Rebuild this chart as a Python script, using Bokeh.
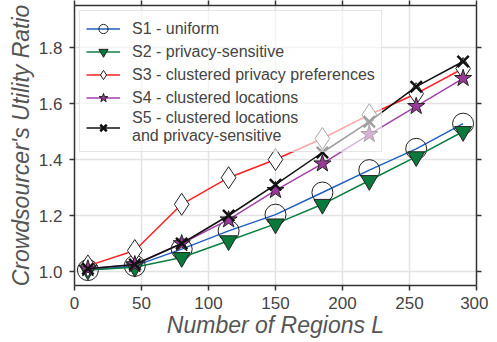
from bokeh.plotting import figure
from bokeh.models import LinearAxis, Range1d, Legend, LegendItem, FixedTicker, PrintfTickFormatter
from bokeh.embed import file_html
from bokeh.resources import INLINE

regions = [10, 45, 80, 115, 150, 185, 220, 255, 290]
s1_uniform = [1.005, 1.02, 1.08, 1.145, 1.203, 1.282, 1.362, 1.438, 1.528]
s2_privacy = [1.005, 1.015, 1.05, 1.11, 1.17, 1.24, 1.325, 1.41, 1.50]
s3_clustered_pref = [1.02, 1.075, 1.24, 1.335, 1.40, 1.475, 1.56, 1.635, 1.725]
s4_clustered_loc = [1.01, 1.025, 1.10, 1.185, 1.29, 1.385, 1.49, 1.59, 1.69]
s5_clustered_both = [1.01, 1.025, 1.10, 1.20, 1.31, 1.425, 1.535, 1.66, 1.75]

x_ticks = [0, 50, 100, 150, 200, 250, 300]
y_ticks = [1.0, 1.2, 1.4, 1.6, 1.8]

labels = ["S1 - uniform", "S2 - privacy-sensitive", "S3 - clustered privacy preferences",
          "S4 - clustered locations", "S5 - clustered locations\nand privacy-sensitive"]

FONT = "Liberation Sans"

p = figure(width=488, height=340, output_backend="svg", toolbar_location=None,
           x_range=Range1d(0, 300), y_range=Range1d(0.95, 1.95),
           min_border_left=74, min_border_right=12, min_border_top=4, min_border_bottom=0)
p.outline_line_color = None
p.background_fill_color = "white"

axis_color = "#333333"
for ax in [p.xaxis[0], p.yaxis[0]]:
    ax.axis_line_color = axis_color
    ax.axis_line_width = 1.5
    ax.major_tick_line_color = axis_color
    ax.major_tick_line_width = 1.5
    ax.major_tick_out = 5
    ax.major_tick_in = 0
    ax.minor_tick_line_color = None
    ax.major_label_text_font = FONT
    ax.major_label_text_font_size = "17px"
    ax.major_label_text_color = "#444444"
    ax.axis_label_text_font = FONT
    ax.axis_label_text_font_style = "italic"
    ax.axis_label_text_font_size = "23px"
    ax.axis_label_text_color = "#555555"

p.xaxis[0].ticker = FixedTicker(ticks=x_ticks)
p.yaxis[0].ticker = FixedTicker(ticks=y_ticks)
p.yaxis[0].formatter = PrintfTickFormatter(format="%.1f")
p.xaxis[0].axis_label = "Number of Regions L"
p.yaxis[0].axis_label = "Crowdsourcer's Utility Ratio"
p.xaxis[0].major_label_standoff = 6
p.yaxis[0].major_label_standoff = 7
p.xaxis[0].axis_label_standoff = 0
p.yaxis[0].axis_label_standoff = 2

for loc, tick in [("above", x_ticks), ("right", y_ticks)]:
    ax = LinearAxis(ticker=FixedTicker(ticks=tick))
    ax.axis_line_color = axis_color
    ax.axis_line_width = 1.5
    ax.major_tick_line_color = axis_color
    ax.major_tick_line_width = 1.5
    ax.major_tick_out = 5
    ax.major_tick_in = 0
    ax.minor_tick_line_color = None
    ax.major_label_text_font_size = "1px"
    ax.major_label_overrides = {t: "" for t in tick}
    ax.major_label_standoff = 0
    p.add_layout(ax, loc)

p.xgrid.ticker = FixedTicker(ticks=x_ticks)
p.ygrid.ticker = FixedTicker(ticks=y_ticks)
p.grid.grid_line_color = "#e3e3e3"
p.grid.grid_line_width = 1.5

# S1
l1 = p.line(regions, s1_uniform, line_color="#1f5fbf", line_width=1.5)
m1 = p.scatter(regions, s1_uniform, marker="circle", size=21, fill_color=None,
               line_color="#222222", line_width=1)
# S2
l2 = p.line(regions, s2_privacy, line_color="#0a8040", line_width=1.5)
m2 = p.scatter(regions, s2_privacy, marker="inverted_triangle", size=17, fill_color="#0a7a3c",
               line_color="#222222", line_width=1)
# S3
l3 = p.line(regions, s3_clustered_pref, line_color="#ff2020", line_width=1.5)
m3 = p.scatter(regions, s3_clustered_pref, marker="diamond", size=22, fill_color="white",
               line_color="#222222", line_width=1)
# S4
l4 = p.line(regions, s4_clustered_loc, line_color="#a040a8", line_width=1.5)
m4 = p.scatter(regions, s4_clustered_loc, marker="star", size=18, fill_color="#9a3a98",
               line_color="#222222", line_width=1)
# S5
l5 = p.line(regions, s5_clustered_both, line_color="#111111", line_width=1.5)
m5 = p.scatter(regions, s5_clustered_both, marker="x", size=16, line_color="#111111",
               line_width=2.5)

items = []
for lab, rs in zip(labels, [[l1, m1], [l2, m2], [l3, m3], [l4, m4], [l5, m5]]):
    items.append(LegendItem(label=lab, renderers=rs))

legend = Legend(items=items, location="top_left")
legend.label_text_font = FONT
legend.label_text_font_size = "16px"
legend.label_text_color = "#444444"
legend.background_fill_alpha = 0.6
legend.border_line_color = "#cccccc"
legend.border_line_width = 1
legend.glyph_width = 34
legend.glyph_height = 23
legend.label_standoff = 12
legend.spacing = 0
legend.padding = 6
legend.margin = 5
p.add_layout(legend, "center")

open("out.html", "w").write(file_html(p, INLINE))
